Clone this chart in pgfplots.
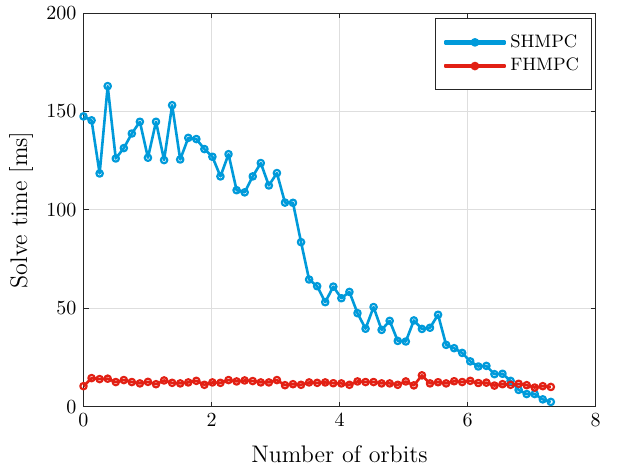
\documentclass[border=0pt]{standalone}
\usepackage{pgfplots}
\usepackage{pgfplotstable}
\pgfplotsset{compat=1.18}

\definecolor{shblue}{RGB}{0,154,218}
\definecolor{fhred}{RGB}{226,32,20}
\definecolor{axgray}{gray}{0.15}

\pgfplotstableread{
x      shmpc  fhmpc
0.000  147.5  10.4
0.126  145.5  14.5
0.252  118.5  14.0
0.378  162.9  14.2
0.504  126.1  12.5
0.630  131.4  13.5
0.755  138.8  12.5
0.881  144.8  11.8
1.007  126.5  12.6
1.133  144.8  11.4
1.259  125.3  13.3
1.385  153.2  12.1
1.511  125.6  11.8
1.637  136.6  12.3
1.763  136.0  13.1
1.889  130.9  11.1
2.014  127.0  12.3
2.140  117.0  12.1
2.266  128.3  13.5
2.392  110.0  12.8
2.518  108.9  13.3
2.644  117.0  13.0
2.770  123.8  12.3
2.896  112.4  12.3
3.022  118.7  13.5
3.148  103.7  10.9
3.273  103.6  11.4
3.399   83.6  11.1
3.525   64.6  12.3
3.651   61.2  12.1
3.777   53.1  12.3
3.903   61.0  11.9
4.029   55.1  11.8
4.155   58.3  11.1
4.281   47.5  12.8
4.407   39.6  12.5
4.532   50.6  12.5
4.658   39.0  11.8
4.784   43.6  11.8
4.910   33.4  11.1
5.036   33.1  12.8
5.162   43.8  10.8
5.288   39.5  15.9
5.414   40.1  11.8
5.540   46.7  12.4
5.666   31.4  11.8
5.791   29.7  12.9
5.917   27.3  12.5
6.043   23.0  13.1
6.169   20.4  12.0
6.295   20.7  12.2
6.421   16.5  10.7
6.547   16.7  11.4
6.673   13.1  11.1
6.799    8.5  11.6
6.925    6.4  10.9
7.050    6.4   9.7
7.176    3.7  10.4
7.302    2.4  10.0
}\solvetimes

\begin{document}
\begin{tikzpicture}
\begin{axis}[
    name=ax,
    width=256pt,
    height=196.75pt,
    scale only axis,
    xmin=0, xmax=8,
    ymin=0, ymax=200,
    xtick={0,2,4,6,8},
    ytick={0,50,100,150,200},
    axis line style={axgray, line width=0.5pt},
    tick style={axgray, line width=0.5pt},
    major tick length=2.5pt,
    tick align=inside,
    xtick pos=both, ytick pos=both,
    grid=major,
    major grid style={line width=0.4pt, draw=black!13},
    tick label style={font=\fontsize{10}{12}\selectfont, text=black},
    xlabel={Number of orbits},
    ylabel={Solve time [ms]},
    label style={font=\fontsize{12}{14}\selectfont},
    xlabel style={at={(axis description cs:0.5,-0.1207)}, anchor=center},
    ylabel style={at={(axis description cs:-0.122,0.5)}, anchor=center},
    legend style={at={(axis description cs:1,1)}, anchor=north east,
        xshift=-2pt, yshift=-2.5pt, draw=axgray,
        font=\fontsize{9}{11}\selectfont, row sep=0pt,
        inner xsep=4pt, inner ysep=6pt},
    legend cell align=left,
    legend image code/.code={
        \fill[#1, mark=none] (0pt,-0.5pt) rectangle (30pt,0.5pt);
        \draw[#1] plot coordinates {(15pt,0pt)};
    },
]
\addplot[color=shblue, line width=1.3pt, line join=round, mark=o, mark size=1.6pt,
    mark options={fill=white, line width=1.1pt}] table[x=x, y=shmpc] {\solvetimes};
\addlegendentry{SHMPC\hspace{11pt}}
\addplot[color=fhred, line width=1.3pt, line join=round, mark=o, mark size=1.6pt,
    mark options={fill=white, line width=1.1pt}] table[x=x, y=fhmpc] {\solvetimes};
\addlegendentry{FHMPC\hspace{11pt}}
\end{axis}
\path ([shift={(-41.75pt,-32.25pt)}]ax.south west) rectangle ([shift={(10.75pt,5.5pt)}]ax.north east);
\end{tikzpicture}
\end{document}
